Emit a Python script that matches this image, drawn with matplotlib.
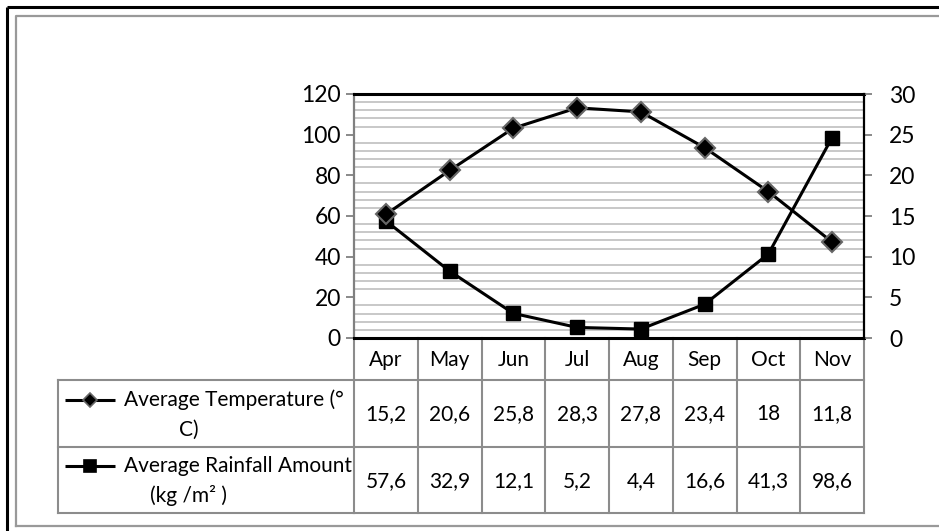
import numpy as np
import matplotlib.pyplot as plt
from matplotlib.transforms import blended_transform_factory

plt.rcParams['font.family'] = ['Lato', 'DejaVu Sans']

months = ['Apr', 'May', 'Jun', 'Jul', 'Aug', 'Sep', 'Oct', 'Nov']
temperature = [15.2, 20.6, 25.8, 28.3, 27.8, 23.4, 18, 11.8]
rainfall = [57.6, 32.9, 12.1, 5.2, 4.4, 16.6, 41.3, 98.6]
temp_label = ['Average Temperature (°', 'C)']
rain_label = ['Average Rainfall Amount', '(kg /m² )']


def fmt(v):
    return f'{v:g}'.replace('.', ',')


W, H = 939, 531
fig = plt.figure(figsize=(W / 100, H / 100), dpi=100)

# pixel-space overlay for frame and data table
bg = fig.add_axes([0, 0, 1, 1], zorder=0)
bg.set_xlim(0, W)
bg.set_ylim(H, 0)
bg.axis('off')

x0, x1, y_top, y_bot = 354, 864, 94, 338
ax = fig.add_axes([x0 / W, (H - y_bot) / H, (x1 - x0) / W, (y_bot - y_top) / H], zorder=2)
ax.patch.set_alpha(0)
ax2 = ax.twinx()

x = np.arange(len(months))
ax.plot(x, rainfall, color='black', lw=2.2, marker='s', ms=10,
        mfc='black', mec='black', zorder=3)
ax2.plot(x, temperature, color='black', lw=2.2, marker='D', ms=10.5,
         mfc='black', mec='#666666', mew=1.5, zorder=3)

ax.set_xlim(-0.5, len(months) - 0.5)
ax.set_ylim(0, 120)
ax2.set_ylim(0, 30)
ax.set_yticks(np.arange(0, 121, 20))
ax.set_yticks(np.arange(0, 121, 4), minor=True)
ax2.set_yticks(np.arange(0, 31, 5))
ax.set_xticks([])
ax.grid(which='minor', axis='y', color='#c4c4c4', lw=1.3)
ax.set_axisbelow(True)

ax.tick_params(axis='y', which='major', length=6, width=1.3, color='#808080',
               labelsize=16.5, pad=3.5)
ax.tick_params(axis='y', which='minor', length=0)
ax2.tick_params(axis='y', which='major', length=6, width=1.3, color='#808080',
                labelsize=16.5, pad=12)

for s in ['top', 'bottom']:
    ax.spines[s].set_color('black')
    ax.spines[s].set_linewidth(2.2)
ax.spines['left'].set_color('#808080')
ax.spines['left'].set_linewidth(1.6)
ax.spines['right'].set_visible(False)
for s in ['top', 'bottom', 'left']:
    ax2.spines[s].set_visible(False)
ax2.spines['right'].set_color('black')
ax2.spines['right'].set_linewidth(1.6)

# outer frame
bg.plot([7, 7], [7, H], color='black', lw=2.2, solid_capstyle='butt')
bg.plot([7, W], [7, 7], color='black', lw=2.2, solid_capstyle='butt')
bg.plot([16, 16, W], [H - 5, 16, 16], color='#999999', lw=1.6)
bg.plot([16, W], [H - 5, H - 5], color='#999999', lw=1.6)

# data table
grid_c = '#8c8c8c'
fs = 15
tx = blended_transform_factory(ax.transData, bg.transData)
row_hdr, row1, row2 = 380, 447, 513
tab_left = 58
for i in range(len(months) + 1):
    bg.plot([i - 0.5, i - 0.5], [y_bot, row2], color=grid_c, lw=1.5,
            transform=tx, clip_on=False)
bg.plot([tab_left, tab_left], [row_hdr, row2], color=grid_c, lw=1.5)
for yy in [row_hdr, row1, row2]:
    bg.plot([tab_left, x0], [yy, yy], color=grid_c, lw=1.5)
    bg.plot([-0.5, len(months) - 0.5], [yy, yy], color=grid_c, lw=1.5,
            transform=tx, clip_on=False)

for i, m in enumerate(months):
    bg.text(i, (y_bot + row_hdr) / 2 + 1, m, transform=tx, ha='center',
            va='center', fontsize=fs)
    bg.text(i, (row_hdr + row1) / 2 + 1, fmt(temperature[i]), transform=tx,
            ha='center', va='center', fontsize=fs)
    bg.text(i, (row1 + row2) / 2 + 1, fmt(rainfall[i]), transform=tx,
            ha='center', va='center', fontsize=fs)

# series keys in the table
for (top, bot), label, mk, ms, mec in [((row_hdr, row1), temp_label, 'D', 7, '#666666'),
                                       ((row1, row2), rain_label, 's', 9, 'black')]:
    mid = (top + bot) / 2
    ky = mid - 14
    bg.plot([65, 115], [ky, ky], color='black', lw=2.2, solid_capstyle='butt')
    bg.plot([90], [ky], marker=mk, ms=ms, mfc='black', mec=mec, mew=1.2, color='black')
    bg.text(124, ky, label[0], ha='left', va='center', fontsize=fs)
    bg.text(189, mid + 16, label[1], ha='center', va='center', fontsize=fs)

fig.savefig('out.png', dpi=100)
